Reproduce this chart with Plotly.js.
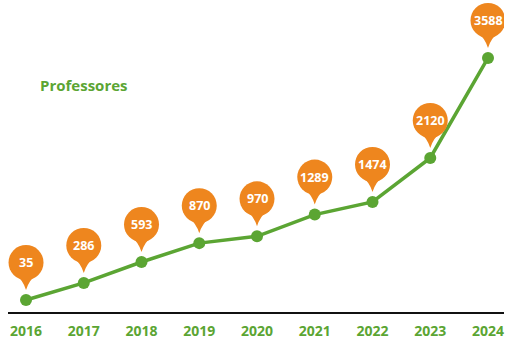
<!DOCTYPE html>
<html>
<head>
<meta charset="utf-8">
<script src="https://cdn.plot.ly/plotly-3.0.1.min.js"></script>
<style>html,body{margin:0;padding:0;background:#fff;}#chart{width:507px;height:352px;}</style>
</head>
<body>
<div id="chart"></div>
<script>
var years = [2016, 2017, 2018, 2019, 2020, 2021, 2022, 2023, 2024];
var professores = [35, 286, 593, 870, 970, 1289, 1474, 2120, 3588];
var titleText = 'Professores';

var green = '#5BA533';
var orange = '#EE861E';
var fontFam = 'Open Sans, Lato, sans-serif';

var shapes = [];
var annotations = [];
for (var i = 0; i < years.length; i++) {
  shapes.push({
    type: 'circle', xref: 'x', yref: 'y',
    xsizemode: 'pixel', ysizemode: 'pixel',
    xanchor: years[i], yanchor: professores[i],
    x0: -17.5, x1: 17.5, y0: 20, y1: 55,
    fillcolor: orange, line: {width: 0}, layer: 'above'
  });
  shapes.push({
    type: 'path', xref: 'x', yref: 'y',
    xsizemode: 'pixel', ysizemode: 'pixel',
    xanchor: years[i], yanchor: professores[i],
    path: 'M -11,26 Q -3,20 0,10 Q 3,20 11,26 Z',
    fillcolor: orange, line: {width: 0}, layer: 'above'
  });
  annotations.push({
    x: years[i], y: professores[i], xref: 'x', yref: 'y',
    yshift: 37.5, showarrow: false,
    text: '<b>' + professores[i] + '</b>',
    font: {family: fontFam, size: 12.5, color: '#ffffff'}
  });
}

var trace = {
  x: years, y: professores, type: 'scatter', mode: 'lines+markers',
  line: {color: green, width: 3.5},
  marker: {color: green, size: 12},
  hoverinfo: 'skip'
};

var layout = {
  width: 507, height: 352,
  margin: {l: 8, r: 3, t: 0, b: 40},
  paper_bgcolor: '#ffffff', plot_bgcolor: '#ffffff',
  showlegend: false,
  title: {
    text: '<b>' + titleText + '</b>',
    font: {family: fontFam, size: 15, color: green},
    xref: 'container', yref: 'container',
    x: 40 / 507, xanchor: 'left', y: 1 - 86 / 352, yanchor: 'middle'
  },
  xaxis: {
    range: [2015.688, 2024.277],
    tickvals: years, ticktext: years.map(function(y){return '<b>' + y + '</b>';}),
    tickfont: {family: fontFam, size: 14, color: green},
    ticklabelstandoff: 5,
    showline: true, linecolor: '#111111', linewidth: 2,
    showgrid: false, zeroline: false, ticks: '', fixedrange: true
  },
  yaxis: {
    range: [-141, 4439], visible: false, showgrid: false, zeroline: false, fixedrange: true
  },
  shapes: shapes,
  annotations: annotations
};

Plotly.newPlot('chart', [trace], layout, {displayModeBar: false, staticPlot: true});
</script>
</body>
</html>
